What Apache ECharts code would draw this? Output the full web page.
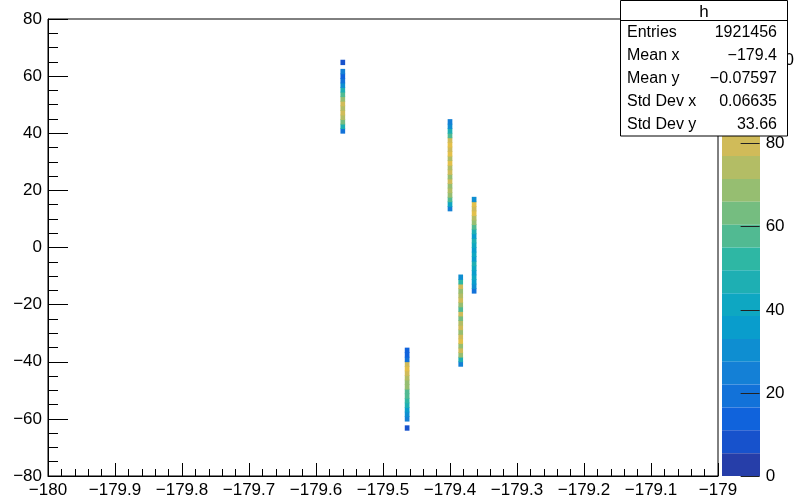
<!DOCTYPE html>
<html>
<head>
<meta charset="utf-8">
<script src="https://cdn.jsdelivr.net/npm/echarts@6/dist/echarts.min.js"></script>
<style>
  html, body { margin: 0; padding: 0; background: #fff; }
  #container { width: 797px; height: 500px; }
</style>
</head>
<body>
<div id="container"></div>
<script>
// 2D histogram "h": bins of 0.007 in x and 1.6 in y, only non-empty bins listed
var binW = 0.007;
var binH = 1.6;
var yMin = -80;

// each streak: x centre, index of lowest y bin, bin contents from bottom to top
var streakX = [-179.560, -179.560, -179.400, -179.364, -179.384, -179.464, -179.464];
var streakBin0 = [75, 90, 58, 40, 24, 12, 10];
var streakZ = [
  [20, 45, 62, 72, 80, 74, 82, 68, 58, 45, 30, 18, 15, 22],
  [8],
  [25, 40, 55, 68, 76, 66, 80, 70, 82, 74, 84, 72, 85, 80, 84, 80, 60, 45, 30, 22],
  [20, 28, 38, 42, 35, 40, 45, 38, 42, 36, 40, 44, 38, 48, 55, 66, 76, 84, 80, 85, 30],
  [22, 45, 66, 80, 70, 84, 80, 68, 82, 74, 64, 78, 55, 68, 82, 76, 70, 80, 50, 28],
  [22, 30, 38, 45, 50, 55, 60, 66, 70, 76, 82, 86, 82, 20, 12, 15],
  [8]
];

var statNames = ['Entries', 'Mean x', 'Mean y', 'Std Dev x', 'Std Dev y'];
var statValues = ['1921456', '\u2212179.4', '\u22120.07597', '0.06635', '33.66'];

var zMax = 110;
var nLevels = 20;

// ROOT kBird palette stops
var birdStops = [0, 0.125, 0.25, 0.375, 0.5, 0.625, 0.75, 0.875, 1];
var birdR = [0.2082, 0.0592, 0.0780, 0.0232, 0.1802, 0.5301, 0.8186, 0.9956, 0.9764];
var birdG = [0.1664, 0.3599, 0.5041, 0.6419, 0.7178, 0.7492, 0.7328, 0.7862, 0.9832];
var birdB = [0.5293, 0.8684, 0.8385, 0.7914, 0.6425, 0.4662, 0.3499, 0.1968, 0.0539];

function birdColor(f) {
  var i = 0;
  while (i < birdStops.length - 2 && f > birdStops[i + 1]) i++;
  var t = (f - birdStops[i]) / (birdStops[i + 1] - birdStops[i]);
  function c(a) { return Math.round(255 * (a[i] + (a[i + 1] - a[i]) * t)); }
  return 'rgb(' + c(birdR) + ',' + c(birdG) + ',' + c(birdB) + ')';
}

var dz = zMax / nLevels;
var pieces = [];
for (var i = 0; i < nLevels; i++) {
  pieces.push({ gte: i * dz, lt: (i + 1) * dz, color: birdColor(Math.min(1, (i + 0.99) / nLevels)) });
}
pieces[nLevels - 1].lte = zMax;
delete pieces[nLevels - 1].lt;

var cells = [];
streakX.forEach(function (x, s) {
  streakZ[s].forEach(function (z, k) {
    cells.push([x, yMin + (streakBin0[s] + k) * binH, z]);
  });
});

function minus(v) { return String(v).replace('-', '\u2212'); }

var font = 'Liberation Sans';
var dom = document.getElementById('container');
var myChart = echarts.init(dom);

var statsTexts = [];
statNames.forEach(function (name, i) {
  var y = 33 + i * 22.8;
  statsTexts.push({
    type: 'text', x: 627, y: y, z: 100,
    style: { text: name, font: '16px "' + font + '"', fill: '#000', verticalAlign: 'middle', textAlign: 'left' }
  });
  statsTexts.push({
    type: 'text', x: 777, y: y, z: 100,
    style: { text: statValues[i], font: '16px "' + font + '"', fill: '#000', verticalAlign: 'middle', textAlign: 'right' }
  });
});

var option = {
  animation: false,
  backgroundColor: '#fff',
  grid: [
    { left: 48, top: 19, width: 670, height: 457, show: true, borderColor: '#000', borderWidth: 1, backgroundColor: 'transparent' },
    { left: 722, top: 19, width: 38, height: 457, show: false }
  ],
  xAxis: [{
    type: 'value', gridIndex: 0, min: -180, max: -179, interval: 0.1,
    axisLine: { onZero: false, lineStyle: { color: '#000', width: 1 } },
    axisTick: { inside: true, length: 13, lineStyle: { color: '#000' } },
    minorTick: { show: true, splitNumber: 5, length: 7, lineStyle: { color: '#000' } },
    splitLine: { show: false },
    axisLabel: { color: '#000', fontSize: 17, fontFamily: font, margin: 6, formatter: minus }
  }, {
    type: 'value', gridIndex: 1, show: false, min: 0, max: 1,
    axisLine: { onZero: false }
  }],
  yAxis: [{
    type: 'value', gridIndex: 0, min: -80, max: 80, interval: 20,
    axisLine: { onZero: false, lineStyle: { color: '#000', width: 1 } },
    axisTick: { inside: true, length: 20, lineStyle: { color: '#000' } },
    minorTick: { show: true, splitNumber: 4, length: 10, lineStyle: { color: '#000' } },
    splitLine: { show: false },
    axisLabel: { color: '#000', fontSize: 17, fontFamily: font, margin: 6, formatter: minus }
  }, {
    type: 'value', gridIndex: 1, position: 'right', min: 0, max: zMax, interval: 20, z: 10,
    axisLine: { show: false, onZero: false },
    axisTick: { inside: true, length: 19, lineStyle: { color: '#222' } },
    splitLine: { show: false },
    axisLabel: { color: '#000', fontSize: 17, fontFamily: font, margin: 6, showMaxLabel: false }
  }],
  visualMap: {
    type: 'piecewise', seriesIndex: 0, dimension: 2, z: 2,
    pieces: pieces,
    orient: 'vertical', left: 722, top: 19, padding: 0,
    itemWidth: 38, itemHeight: 457 / nLevels, itemGap: 0, itemSymbol: 'rect',
    showLabel: false, hoverLink: false, text: null
  },
  graphic: [{
    type: 'group', z: 100,
    children: [
      { type: 'rect', z: 100, shape: { x: 620.5, y: 0.5, width: 167, height: 135.5 }, style: { fill: '#fff', stroke: '#000', lineWidth: 1 } },
      { type: 'line', z: 100, shape: { x1: 620.5, y1: 20.5, x2: 787.5, y2: 20.5 }, style: { stroke: '#000', lineWidth: 1 } },
      { type: 'text', z: 100, x: 704, y: 12, style: { text: 'h', font: '17px "' + font + '"', fill: '#000', verticalAlign: 'middle', textAlign: 'center' } }
    ].concat(statsTexts)
  }],
  series: [{
    type: 'custom',
    xAxisIndex: 0, yAxisIndex: 0,
    encode: { x: 0, y: 1 },
    data: cells,
    renderItem: function (params, api) {
      var x = api.value(0), y = api.value(1);
      var p0 = api.coord([x - binW / 2, y + binH]);
      var p1 = api.coord([x + binW / 2, y]);
      // slight overlap so neighbouring bins join without hairline gaps
      return {
        type: 'rect',
        shape: { x: p0[0], y: p0[1] - 0.4, width: p1[0] - p0[0], height: p1[1] - p0[1] + 0.8 },
        style: { fill: api.visual('color') }
      };
    }
  }]
};

myChart.setOption(option);
</script>
</body>
</html>
